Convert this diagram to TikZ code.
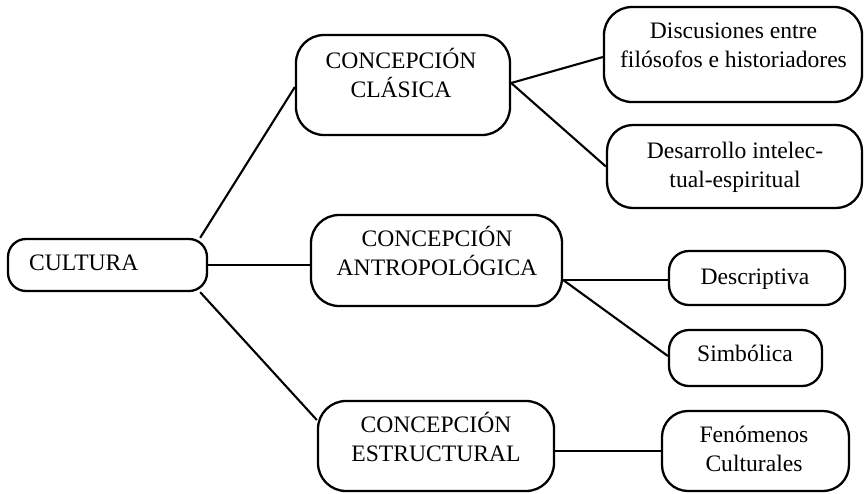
\documentclass[tikz,border=0pt]{standalone}
\usepackage{fontspec}
\setmainfont{Liberation Serif}
\usetikzlibrary{calc}
\begin{document}
\begin{tikzpicture}[x=1pt,y=-1pt,
  box/.style={draw=black,line width=2.3pt,rounded corners=#1,inner sep=0pt},
  box/.default=24pt,
  txt/.style={inner sep=0pt,align=center,font=\fontsize{23.6}{28.5}\selectfont,anchor=base},
  link/.style={draw=black,line width=2.1pt}]
\useasboundingbox (0,0) rectangle (864,493);
% boxes
\node[box=18pt,minimum width=199pt,minimum height=52pt] (cultura) at (107.5,265) {};
\node[box=28pt,minimum width=214pt,minimum height=100pt] (clasica) at (403,85) {};
\node[box=28pt,minimum width=258pt,minimum height=95pt] (discus) at (733,54.5) {};
\node[box=26pt,minimum width=255pt,minimum height=83pt] (desarr) at (734.5,166.5) {};
\node[box=28pt,minimum width=251pt,minimum height=91pt] (antrop) at (436.5,260.5) {};
\node[box=20pt,minimum width=176pt,minimum height=54pt] (descr) at (757,278) {};
\node[box=20pt,minimum width=153pt,minimum height=56pt] (simb) at (745.5,358) {};
\node[box=28pt,minimum width=236pt,minimum height=90pt] (estruc) at (436,446) {};
\node[box=26pt,minimum width=187pt,minimum height=80pt] (fenom) at (755.5,451) {};
% texts
\node[txt,anchor=base west] (cultura-t) at (29,270) {CULTURA};
\node[txt] (clasica-t) at (401,97) {CONCEPCIÓN\\CLÁSICA};
\node[txt] (discus-t) at (733.5,67) {Discusiones entre\\filósofos e historiadores};
\node[txt] (desarr-t) at (735,187) {Desarrollo intelec-\\tual-espiritual};
\node[txt] (antrop-t) at (437,275) {CONCEPCIÓN\\ANTROPOLÓGICA};
\node[txt] (descr-t) at (755,284) {Descriptiva};
\node[txt] (simb-t) at (745,361) {Simbólica};
\node[txt] (estruc-t) at (436,461) {CONCEPCIÓN\\ESTRUCTURAL};
\node[txt] (fenom-t) at (754,471) {Fenómenos\\Culturales};
% connectors
\draw[link] ($(cultura.north east)+(-8,0)$) -- ($(clasica.west)+(0,2)$);
\draw[link] (cultura.east) -- ($(antrop.west)+(0,4.5)$);
\draw[link] ($(cultura.south east)+(-8,0)$) -- ($(estruc.west)+(0,-26)$);
\draw[link] ($(clasica.east)+(0,-2)$) -- ($(discus.west)+(0,2.5)$);
\draw[link] ($(clasica.east)+(0,-2)$) -- (desarr.west);
\draw[link] ($(antrop.east)+(0,19.5)$) -- ($(descr.west)+(0,2)$);
\draw[link] ($(antrop.east)+(0,19.5)$) -- ($(simb.west)+(0,-2)$);
\draw[link] ($(estruc.east)+(0,5)$) -- (fenom.west);
\end{tikzpicture}
\end{document}
